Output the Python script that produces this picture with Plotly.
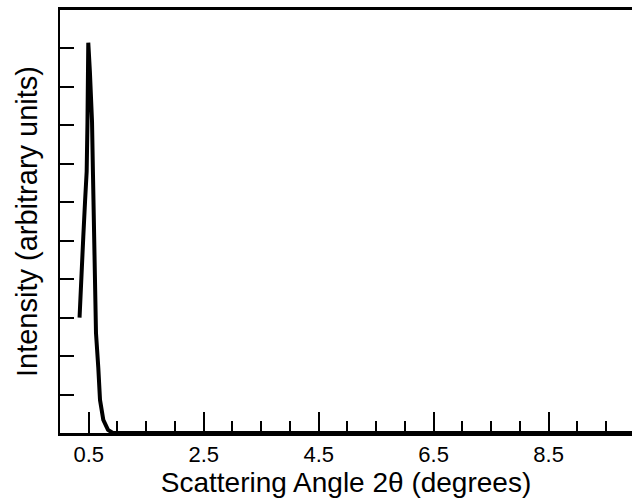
import plotly.graph_objects as go

# Data
angle = [0.34, 0.35, 0.38, 0.405, 0.435, 0.464, 0.478, 0.492, 0.52, 0.557, 0.574,
         0.609, 0.626, 0.666, 0.696, 0.753, 0.835, 0.92, 9.95]
intensity = [3.0, 3.4, 4.2, 5.1, 6.0, 6.8, 8.1, 10.15, 9.4, 8.1, 6.7,
             3.45, 2.6, 1.7, 0.86, 0.34, 0.08, 0.0, 0.0]

x_tickvals = [0.5, 2.5, 4.5, 6.5, 8.5]
x_ticktext = ["0.5", "2.5", "4.5", "6.5", "8.5"]
y_tickvals = [1, 2, 3, 4, 5, 6, 7, 8, 9, 10]

fig = go.Figure()
fig.add_trace(go.Scatter(
    x=angle, y=intensity, mode="lines",
    line=dict(color="black", width=4),
    showlegend=False, hoverinfo="skip",
))

fam = "Liberation Sans, Arial, Helvetica, sans-serif"

fig.update_layout(
    width=632, height=502,
    margin=dict(l=60, r=0, t=10, b=69),
    paper_bgcolor="white", plot_bgcolor="white",
    font=dict(family=fam, color="black"),
    xaxis=dict(
        range=[0, 9.95],
        tickvals=x_tickvals, ticktext=x_ticktext,
        ticks="inside", ticklen=21, tickwidth=2, tickcolor="black",
        minor=dict(dtick=0.5, tick0=0, ticks="inside", ticklen=12,
                   tickwidth=2, tickcolor="black", showgrid=False),
        showline=True, linecolor="black", linewidth=3, mirror=True,
        showgrid=False, zeroline=False,
        tickfont=dict(size=22, family=fam, color="black"),
        title=dict(text="Scattering Angle 2θ (degrees)",
                   font=dict(size=28, family=fam, color="black"),
                   standoff=6),
    ),
    yaxis=dict(
        range=[0, 11],
        tickvals=y_tickvals, showticklabels=False,
        ticks="inside", ticklen=14, tickwidth=2, tickcolor="black",
        showline=True, linecolor="black", linewidth=2, mirror=False,
        showgrid=False, zeroline=False,
        title=dict(text="Intensity (arbitrary units)",
                   font=dict(size=29, family=fam, color="black"),
                   standoff=12),
    ),
)

fig.write_html(
    "out.html",
    config={"displayModeBar": False, "staticPlot": True},
    post_script="document.body.style.margin='0';document.body.style.overflow='hidden';",
)
